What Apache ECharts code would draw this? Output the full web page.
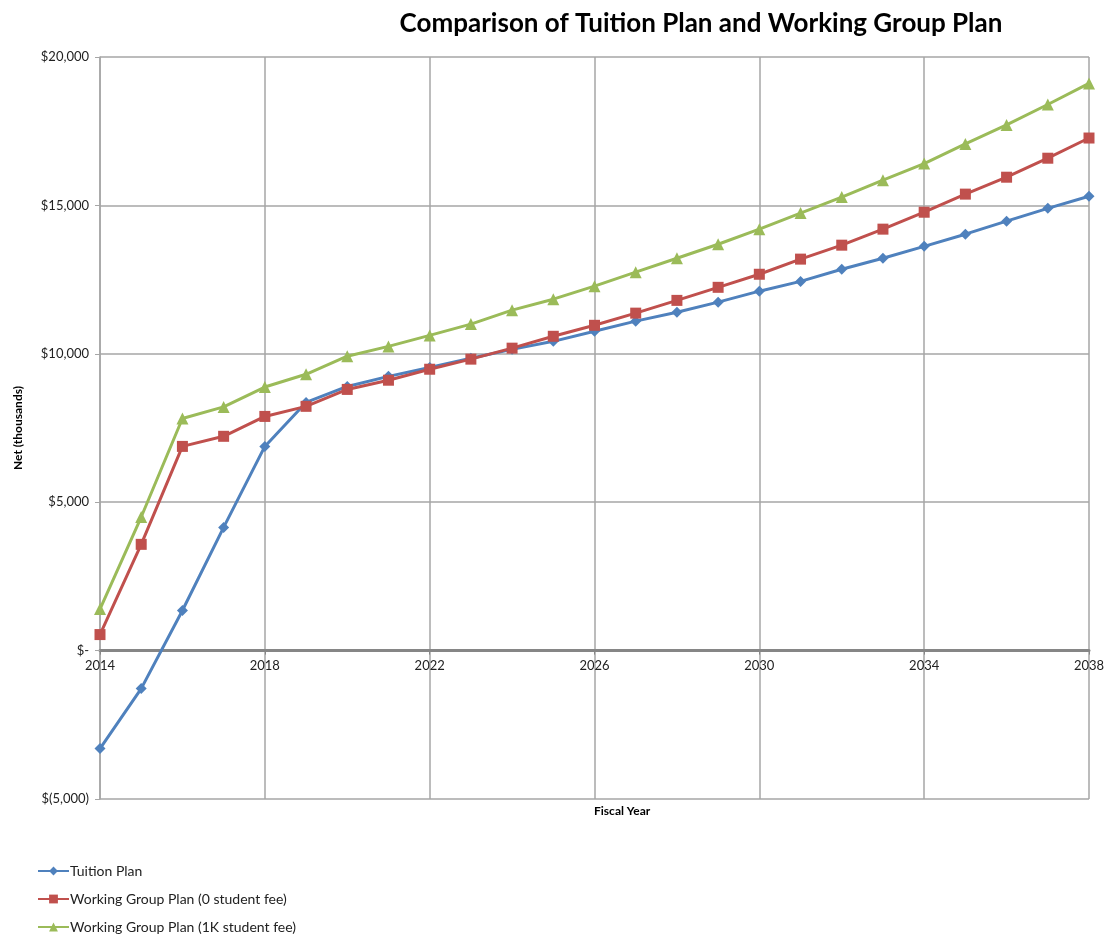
<!DOCTYPE html>
<html>
<head>
<meta charset="utf-8">
<script src="https://cdn.jsdelivr.net/npm/echarts@6/dist/echarts.min.js"></script>
<style>
  html, body { margin: 0; padding: 0; background: #fff; }
  #chart { width: 1111px; height: 939px; }
</style>
</head>
<body>
<div id="chart"></div>
<script>
// Fiscal years on the horizontal axis
const years = ['2014','2015','2016','2017','2018','2019','2020','2021','2022','2023','2024','2025',
               '2026','2027','2028','2029','2030','2031','2032','2033','2034','2035','2036','2037','2038'];

// Net position, in thousands of dollars
const tuitionPlan = [-3300, -1280, 1350, 4150, 6880, 8360, 8900, 9240, 9540, 9850, 10150, 10420,
                     10760, 11100, 11400, 11740, 12110, 12440, 12850, 13220, 13620, 14030, 14470, 14900, 15310];
const workingGroupNoFee = [540, 3580, 6880, 7220, 7890, 8230, 8800, 9110, 9480, 9820, 10190, 10590,
                           10960, 11370, 11800, 12240, 12680, 13190, 13660, 14200, 14770, 15380, 15950, 16590, 17270];
const workingGroup1KFee = [1400, 4500, 7820, 8210, 8880, 9310, 9920, 10250, 10620, 11000, 11470, 11840,
                           12280, 12750, 13220, 13690, 14200, 14740, 15280, 15850, 16410, 17070, 17710, 18400, 19110];

const seriesNames = ['Tuition Plan', 'Working Group Plan (0 student fee)', 'Working Group Plan (1K student fee)'];

const FONT = 'Lato, "Open Sans", sans-serif';

// Grid geometry: the year axis sits on the zero line, one fifth of the way up from -5,000
const GRID_TOP = 57, GRID_BOTTOM = 140;
const PLOT_H = 939 - GRID_TOP - GRID_BOTTOM;
const ZERO_SHIFT = PLOT_H * 5000 / 25000;

function money(v) {
  if (v === 0) return '$-';
  const s = Math.abs(v).toLocaleString('en-US');
  return v < 0 ? '$(' + s + ')' : '$' + s;
}

const chart = echarts.init(document.getElementById('chart'), null, { renderer: 'canvas' });

function lineSeries(name, data, color, symbol, size) {
  return {
    name: name,
    type: 'line',
    data: data,
    symbol: symbol,
    symbolSize: size,
    showAllSymbol: true,
    lineStyle: { color: color, width: 3 },
    itemStyle: { color: color },
    emphasis: { disabled: true },
    animation: false
  };
}

chart.setOption({
  backgroundColor: '#ffffff',
  textStyle: { fontFamily: FONT },
  title: {
    text: 'Comparison of Tuition Plan and Working Group Plan',
    left: 696,
    textAlign: 'center',
    top: 6,
    textStyle: { fontFamily: FONT, fontSize: 26, fontWeight: 'bold', color: '#000' }
  },
  grid: { left: 100, right: 22, top: GRID_TOP, bottom: GRID_BOTTOM, containLabel: false },
  legend: {
    orient: 'vertical',
    left: 37,
    top: 862,
    padding: 0,
    itemWidth: 31,
    itemHeight: 11,
    itemGap: 10,
    data: seriesNames,
    textStyle: { fontFamily: FONT, fontSize: 14, lineHeight: 18, color: '#222', padding: [0, 0, 0, -4] }
  },
  xAxis: {
    type: 'category',
    data: years,
    boundaryGap: false,
    offset: -ZERO_SHIFT,
    axisLine: { onZero: false, lineStyle: { color: '#868686', width: 3 } },
    axisTick: { show: true, interval: 3, length: 4, inside: false, lineStyle: { color: '#868686', width: 1 } },
    axisLabel: { interval: 3, color: '#222', fontFamily: FONT, fontSize: 13, margin: 9 },
    splitLine: { show: true, interval: 3, lineStyle: { color: '#a6a6a6', width: 1.5 } }
  },
  yAxis: {
    type: 'value',
    min: -5000,
    max: 20000,
    interval: 5000,
    name: 'Net (thousands)',
    nameLocation: 'middle',
    nameGap: 76,
    nameRotate: 90,
    nameTextStyle: { fontFamily: FONT, fontSize: 12, fontWeight: 'bold', color: '#000' },
    axisLine: { show: true, lineStyle: { color: '#a6a6a6', width: 1.5 } },
    axisTick: { show: true, length: 5, lineStyle: { color: '#a6a6a6' } },
    axisLabel: { formatter: money, color: '#222', fontFamily: FONT, fontSize: 13, margin: 11 },
    splitLine: { show: true, lineStyle: { color: '#a6a6a6', width: 1.5 } }
  },
  graphic: [{
    type: 'text',
    left: 594,
    top: 805,
    style: { text: 'Fiscal Year', fontFamily: FONT, fontSize: 12, fontWeight: 'bold', fill: '#000', textAlign: 'center' }
  }],
  series: [
    lineSeries(seriesNames[0], tuitionPlan, '#4F81BD', 'diamond', 11),
    lineSeries(seriesNames[1], workingGroupNoFee, '#C0504D', 'rect', 11),
    lineSeries(seriesNames[2], workingGroup1KFee, '#9BBB59', 'triangle', 12)
  ]
});
</script>
</body>
</html>
